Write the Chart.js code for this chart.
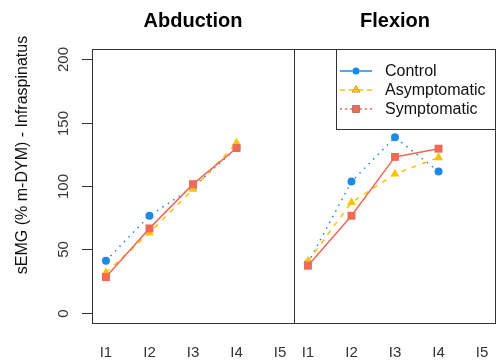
<!DOCTYPE html>
<html>
<head>
<meta charset="utf-8">
<script src="https://cdn.jsdelivr.net/npm/chart.js@4"></script>
<style>
  html, body { margin: 0; padding: 0; background: #fff; overflow: hidden; }
  canvas { display: block; }
</style>
</head>
<body>
<canvas id="chart" width="497" height="361"></canvas>
<script>
// Chart values
const categories = ['I1', 'I2', 'I3', 'I4', 'I5'];
const panels = ['Abduction', 'Flexion'];
const seriesNames = ['Control', 'Asymptomatic', 'Symptomatic'];
const controlAbd = [41, 76.5, 99, 130];
const asymAbd = [31.5, 63, 97.5, 134];
const sympAbd = [28, 66.5, 101.5, 130];
const controlFlex = [39, 103.5, 138.5, 111.5];
const asymFlex = [40.5, 87, 109.5, 122.5];
const sympFlex = [37, 76.5, 123, 129.5];
const yTicks = [0, 50, 100, 150, 200];
const yLabel = 'sEMG (% m-DYM) - Infraspinatus';

// second panel is shifted along the same x scale
const panelShift = 4.64;
const xMin = 0.68;
const xMax = xMin + 2 * panelShift;

function toPoints(abd, flex) {
  const pts = abd.map((v, i) => ({ x: i + 1, y: v }));
  pts.push({ x: xMin + panelShift, y: null });
  flex.forEach((v, i) => pts.push({ x: i + 1 + panelShift, y: v }));
  return pts;
}

const colors = ['#1E88E5', '#FFC107', '#EF6A55'];
const plotDash = [[1.5, 5], [5, 6], []];
const legendDash = [[], [5, 4], [2, 3]];
const markers = ['circle', 'triangle', 'rect'];
const radii = [4, 5.2, 5.6];

const FONT = '"Liberation Sans", Arial, sans-serif';

const frame = {
  id: 'frame',
  afterDraw(chart) {
    const ctx = chart.ctx;
    const a = chart.chartArea;
    const x = chart.scales.x;
    const y = chart.scales.y;
    const mid = x.getPixelForValue(xMin + panelShift);
    ctx.save();

    // box and divider
    ctx.strokeStyle = '#333';
    ctx.lineWidth = 1;
    ctx.strokeRect(Math.round(a.left) + 0.5, Math.round(a.top) + 0.5,
      Math.round(a.right - a.left) - 1, Math.round(a.bottom - a.top));
    ctx.beginPath();
    ctx.moveTo(Math.round(mid) + 0.5, a.top);
    ctx.lineTo(Math.round(mid) + 0.5, a.bottom);
    ctx.stroke();

    // x labels for both panels
    ctx.fillStyle = '#333';
    ctx.font = '15px ' + FONT;
    ctx.textAlign = 'center';
    ctx.textBaseline = 'middle';
    [0, panelShift].forEach(shift => {
      categories.forEach((c, i) => {
        ctx.fillText(c, x.getPixelForValue(i + 1 + shift), 353);
      });
    });

    // y ticks, rotated labels
    yTicks.forEach(v => {
      const py = Math.round(y.getPixelForValue(v)) + 0.5;
      ctx.beginPath();
      ctx.moveTo(a.left - 10, py);
      ctx.lineTo(a.left, py);
      ctx.stroke();
      ctx.save();
      ctx.translate(64, py);
      ctx.rotate(-Math.PI / 2);
      ctx.fillText(String(v), 0, 0);
      ctx.restore();
    });

    // y axis title
    ctx.save();
    ctx.fillStyle = '#111';
    ctx.font = '16px ' + FONT;
    ctx.translate(23, 155);
    ctx.rotate(-Math.PI / 2);
    ctx.fillText(yLabel, 0, 0);
    ctx.restore();

    // panel titles
    ctx.fillStyle = '#000';
    ctx.font = 'bold 20px ' + FONT;
    ctx.fillText(panels[0], (a.left + mid) / 2, 21);
    ctx.fillText(panels[1], (mid + a.right) / 2, 21);

    // legend
    const lx = 336, ly = Math.round(a.top) + 0.5, lw = a.right - lx - 1, lh = 80;
    ctx.fillStyle = '#fff';
    ctx.fillRect(lx, ly, lw, lh);
    ctx.strokeStyle = '#333';
    ctx.strokeRect(lx + 0.5, ly, lw, lh);
    const rows = [71, 90, 109];
    seriesNames.forEach((name, i) => {
      const ry = rows[i];
      ctx.strokeStyle = colors[i];
      ctx.lineWidth = 1.5;
      ctx.setLineDash(legendDash[i]);
      ctx.beginPath();
      ctx.moveTo(340, ry);
      ctx.lineTo(372, ry);
      ctx.stroke();
      ctx.setLineDash([]);
      Chart.helpers.drawPoint(ctx, {
        pointStyle: markers[i], radius: radii[i] * 0.9, borderWidth: 0
      }, 356, ry);
      ctx.fillStyle = colors[i];
      ctx.fill();
      ctx.fillStyle = '#111';
      ctx.font = '16px ' + FONT;
      ctx.textAlign = 'left';
      ctx.fillText(name, 385, ry + 1);
    });
    ctx.restore();
  }
};

const rawSets = [
  toPoints(controlAbd, controlFlex),
  toPoints(asymAbd, asymFlex),
  toPoints(sympAbd, sympFlex)
];

const datasets = rawSets.map((pts, i) => ({
  label: seriesNames[i],
  data: pts,
  borderColor: colors[i],
  backgroundColor: colors[i],
  borderWidth: 1.5,
  borderDash: plotDash[i],
  pointStyle: markers[i],
  pointRadius: radii[i],
  pointBorderWidth: 0,
  pointBackgroundColor: colors[i],
  spanGaps: false,
  tension: 0,
  order: 2 - i
}));

const ctx = document.getElementById('chart').getContext('2d');
new Chart(ctx, {
  type: 'line',
  data: { datasets: datasets },
  options: {
    responsive: false,
    animation: false,
    layout: {
      autoPadding: false,
      padding: { top: 49, right: 1, left: 0, bottom: 0 }
    },
    plugins: {
      legend: { display: false },
      tooltip: { enabled: false },
      title: { display: false }
    },
    scales: {
      x: {
        type: 'linear',
        min: xMin,
        max: xMax,
        afterBuildTicks: scale => {
          const t = [];
          categories.forEach((c, i) => t.push({ value: i + 1 }));
          categories.forEach((c, i) => t.push({ value: i + 1 + panelShift }));
          scale.ticks = t;
        },
        afterFit: scale => { scale.height = 38; },
        grid: { display: false, drawTicks: false },
        border: { display: false },
        ticks: { display: false }
      },
      y: {
        min: -8.3,
        max: 208.3,
        afterBuildTicks: scale => {
          scale.ticks = yTicks.map(v => ({ value: v }));
        },
        afterFit: scale => { scale.width = 92; },
        grid: { display: false, drawTicks: false },
        border: { display: false },
        ticks: { display: false }
      }
    }
  },
  plugins: [frame]
});
</script>
</body>
</html>
